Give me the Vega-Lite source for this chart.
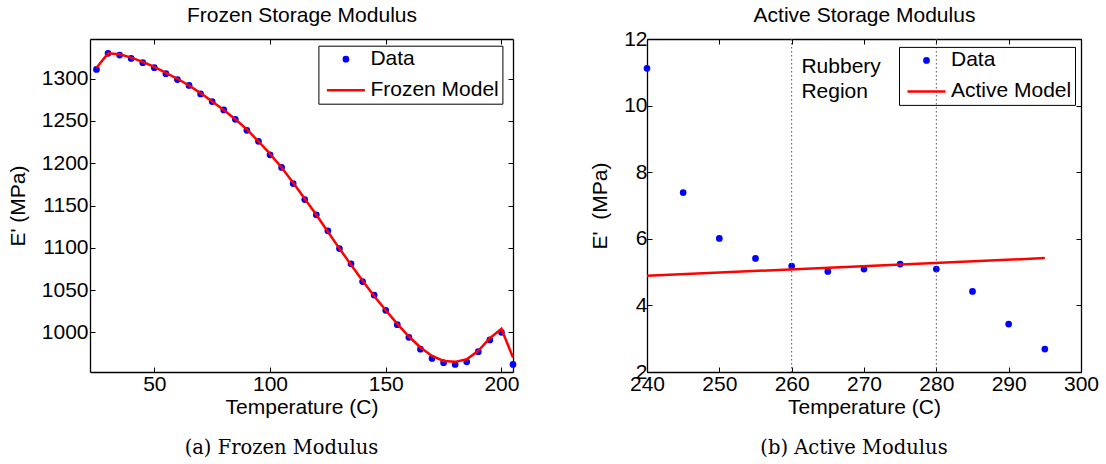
{
  "$schema": "https://vega.github.io/schema/vega-lite/v6.json",
  "padding": {"left": 7, "top": 4, "right": 5, "bottom": 2},
  "spacing": 134,
  "bounds": "flush",
  "resolve": {
    "scale": {"color": "independent", "stroke": "independent", "shape": "independent", "size": "independent"},
    "legend": {"color": "independent", "stroke": "independent", "shape": "independent", "size": "independent"}
  },
  "config": {
    "font": "Liberation Sans",
    "view": {"stroke": null},
    "axis": {
      "grid": false,
      "domainColor": "black",
      "domainWidth": 1.3,
      "tickColor": "black",
      "tickWidth": 1,
      "tickSize": -5,
      "labelFont": "Liberation Sans",
      "labelFontSize": 21,
      "labelColor": "black",
      "labelFlush": false,
      "labelOverlap": false,
      "titleFont": "Liberation Sans",
      "titleFontSize": 21,
      "titleFontWeight": "normal",
      "titleColor": "black"
    },
    "legend": {
      "labelFont": "Liberation Sans",
      "labelFontSize": 21,
      "labelColor": "black",
      "symbolStrokeWidth": 2.5
    }
  },
  "datasets": {
    "frozen": [
      {"t": 25, "e": 1311, "m": 1313},
      {"t": 30, "e": 1330, "m": 1330},
      {"t": 35, "e": 1328, "m": 1329},
      {"t": 40, "e": 1324, "m": 1325},
      {"t": 45, "e": 1319, "m": 1320},
      {"t": 50, "e": 1313, "m": 1314},
      {"t": 55, "e": 1306, "m": 1307},
      {"t": 60, "e": 1299, "m": 1300},
      {"t": 65, "e": 1292, "m": 1292},
      {"t": 70, "e": 1282, "m": 1283},
      {"t": 75, "e": 1273, "m": 1273},
      {"t": 80, "e": 1263, "m": 1263},
      {"t": 85, "e": 1252, "m": 1252},
      {"t": 90, "e": 1239, "m": 1240},
      {"t": 95, "e": 1226, "m": 1226},
      {"t": 100, "e": 1210, "m": 1211},
      {"t": 105, "e": 1195, "m": 1195},
      {"t": 110, "e": 1176, "m": 1177},
      {"t": 115, "e": 1157, "m": 1158},
      {"t": 120, "e": 1139, "m": 1139},
      {"t": 125, "e": 1120, "m": 1119},
      {"t": 130, "e": 1099, "m": 1099},
      {"t": 135, "e": 1081, "m": 1080},
      {"t": 140, "e": 1060, "m": 1061},
      {"t": 145, "e": 1044, "m": 1043},
      {"t": 150, "e": 1026, "m": 1026},
      {"t": 155, "e": 1009, "m": 1010},
      {"t": 160, "e": 994, "m": 995},
      {"t": 165, "e": 980, "m": 982},
      {"t": 170, "e": 969, "m": 972},
      {"t": 175, "e": 964, "m": 966},
      {"t": 180, "e": 962, "m": 965},
      {"t": 185, "e": 965, "m": 968},
      {"t": 190, "e": 977, "m": 978},
      {"t": 195, "e": 991, "m": 993},
      {"t": 200, "e": 1000, "m": 1004},
      {"t": 205, "e": 962, "m": 970}
    ],
    "active": [
      {"t": 240, "e": 11.12},
      {"t": 245, "e": 7.39},
      {"t": 250, "e": 6.01},
      {"t": 255, "e": 5.41},
      {"t": 260, "e": 5.18},
      {"t": 265, "e": 5.02},
      {"t": 270, "e": 5.09},
      {"t": 275, "e": 5.24},
      {"t": 280, "e": 5.09},
      {"t": 285, "e": 4.42},
      {"t": 290, "e": 3.44},
      {"t": 295, "e": 2.69}
    ],
    "activeModel": [
      {"t": 240, "m": 4.89},
      {"t": 295, "m": 5.42}
    ],
    "bounds": [
      {"t": 260},
      {"t": 280}
    ],
    "note": [
      {"t": 261.35, "e": 10.97, "label": "Rubbery\nRegion"}
    ]
  },
  "hconcat": [
    {
      "width": 423,
      "height": 333,
      "title": {
        "text": "(a) Frozen Modulus",
        "orient": "bottom",
        "anchor": "middle",
        "frame": "group",
        "font": "DejaVu Serif",
        "fontSize": 19.5,
        "fontWeight": "normal",
        "color": "black",
        "dx": -20,
        "offset": 22
      },
      "data": {"name": "frozen"},
      "resolve": {"axis": {"x": "independent", "y": "independent"}},
      "layer": [
        {
          "mark": {"type": "point", "filled": true, "strokeWidth": 2.5, "opacity": 1},
          "encoding": {
            "x": {
              "field": "t", "type": "quantitative",
              "scale": {"domain": [22.2, 205], "nice": false, "zero": false},
              "axis": {"orient": "bottom", "values": [50, 100, 150, 200], "format": "d", "title": "Temperature (C)", "labelPadding": 6, "titlePadding": 2}
            },
            "y": {
              "field": "e", "type": "quantitative",
              "scale": {"domain": [953, 1347], "nice": false, "zero": false},
              "axis": {"orient": "left", "values": [1000, 1050, 1100, 1150, 1200, 1250, 1300], "format": "d", "title": "E' (MPa)", "labelPadding": 7, "titlePadding": 13}
            },
            "color": {
              "datum": "Data",
              "scale": {"domain": ["Data", "Frozen Model"], "range": ["#0000ff", "#ff0000"]},
              "legend": {
                "orient": "none",
                "legendX": 228.4,
                "legendY": 6.7,
                "title": null,
                "strokeColor": "black",
                "padding": 3,
                "rowPadding": -5,
                "symbolOffset": 4,
                "labelOffset": 4,
                "symbolStrokeWidth": 2.5
              }
            },
            "stroke": {
              "datum": "Data",
              "scale": {"domain": ["Data", "Frozen Model"], "range": ["#0000ff", "#ff0000"]}
            },
            "shape": {
              "datum": "Data",
              "scale": {"domain": ["Data", "Frozen Model"], "range": ["circle", "stroke"]}
            },
            "size": {
              "datum": "Data",
              "type": "nominal",
              "scale": {"type": "point", "padding": 0, "domain": ["Data", "Frozen Model"], "range": [18, 1444]}
            }
          }
        },
        {
          "mark": {"type": "line", "strokeWidth": 2.5},
          "encoding": {
            "x": {
              "field": "t", "type": "quantitative",
              "axis": {"orient": "top", "values": [50, 100, 150, 200], "labels": false, "title": "Frozen Storage Modulus", "titlePadding": 13}
            },
            "y": {
              "field": "m", "type": "quantitative",
              "axis": {"orient": "right", "values": [1000, 1050, 1100, 1150, 1200, 1250, 1300], "labels": false, "title": null}
            },
            "color": {"datum": "Frozen Model", "legend": null}
          }
        }
      ]
    },
    {
      "width": 434,
      "height": 333,
      "title": {
        "text": "(b) Active Modulus",
        "orient": "bottom",
        "anchor": "middle",
        "frame": "group",
        "font": "DejaVu Serif",
        "fontSize": 19.5,
        "fontWeight": "normal",
        "color": "black",
        "dx": -10,
        "offset": 22
      },
      "resolve": {"axis": {"x": "independent", "y": "independent"}},
      "layer": [
        {
          "data": {"name": "active"},
          "mark": {"type": "point", "filled": true, "strokeWidth": 2.5, "opacity": 1},
          "encoding": {
            "x": {
              "field": "t", "type": "quantitative",
              "scale": {"domain": [240, 300], "nice": false, "zero": false},
              "axis": {"orient": "bottom", "values": [240, 250, 260, 270, 280, 290, 300], "format": "d", "title": "Temperature (C)", "labelPadding": 6, "titlePadding": 2}
            },
            "y": {
              "field": "e", "type": "quantitative",
              "scale": {"domain": [2, 12], "nice": false, "zero": false},
              "axis": {"orient": "left", "values": [2, 4, 6, 8, 10, 12], "format": "d", "title": "E'\u00a0\u00a0(MPa)", "labelPadding": 5, "titlePadding": 13}
            },
            "color": {
              "datum": "Data",
              "scale": {"domain": ["Data", "Active Model"], "range": ["#0000ff", "#ff0000"]},
              "legend": {
                "orient": "none",
                "legendX": 252,
                "legendY": 7.9,
                "title": null,
                "strokeColor": "black",
                "padding": 3,
                "rowPadding": -2.8,
                "symbolOffset": 4,
                "labelOffset": 4,
                "symbolStrokeWidth": 2.5
              }
            },
            "stroke": {
              "datum": "Data",
              "scale": {"domain": ["Data", "Active Model"], "range": ["#0000ff", "#ff0000"]}
            },
            "shape": {
              "datum": "Data",
              "scale": {"domain": ["Data", "Active Model"], "range": ["circle", "stroke"]}
            },
            "size": {
              "datum": "Data",
              "type": "nominal",
              "scale": {"type": "point", "padding": 0, "domain": ["Data", "Active Model"], "range": [18, 1444]}
            }
          }
        },
        {
          "data": {"name": "activeModel"},
          "mark": {"type": "line", "strokeWidth": 2.5},
          "encoding": {
            "x": {
              "field": "t", "type": "quantitative",
              "axis": {"orient": "top", "values": [240, 250, 260, 270, 280, 290, 300], "labels": false, "title": "Active Storage Modulus", "titlePadding": 13}
            },
            "y": {
              "field": "m", "type": "quantitative",
              "axis": {"orient": "right", "values": [2, 4, 6, 8, 10, 12], "labels": false, "title": null}
            },
            "color": {"datum": "Active Model", "legend": null}
          }
        },
        {
          "data": {"name": "bounds"},
          "mark": {"type": "rule", "color": "#555555", "strokeWidth": 1, "strokeDash": [1.5, 2.5]},
          "encoding": {
            "x": {"field": "t", "type": "quantitative", "axis": null}
          }
        },
        {
          "data": {"name": "note"},
          "mark": {"type": "text", "align": "left", "baseline": "alphabetic", "fontSize": 21, "lineBreak": "\n", "lineHeight": 24.3, "color": "black", "font": "Liberation Sans"},
          "encoding": {
            "x": {"field": "t", "type": "quantitative", "axis": null},
            "y": {"field": "e", "type": "quantitative", "axis": null},
            "text": {"field": "label"}
          }
        }
      ]
    }
  ]
}
